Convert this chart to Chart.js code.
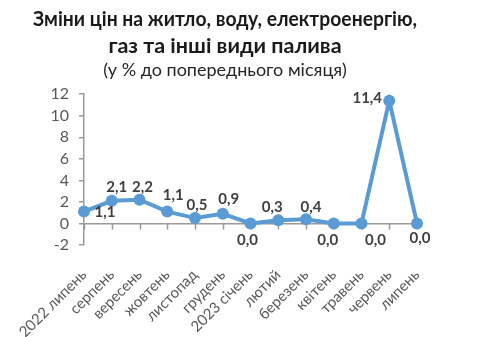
<!DOCTYPE html>
<html>
<head>
<meta charset="utf-8">
<script src="https://cdn.jsdelivr.net/npm/chart.js@4"></script>
<style>
  html, body { margin: 0; padding: 0; background: #fff; }
  .chart-container { width: 480px; height: 337px; }
</style>
</head>
<body>
<div class="chart-container"><canvas id="myChart"></canvas></div>
<script>
const months = ['2022 липень', 'серпень', 'вересень', 'жовтень', 'листопад', 'грудень',
    '2023 січень', 'лютий', 'березень', 'квітень', 'травень', 'червень', 'липень'];
const changes = [1.1, 2.1, 2.2, 1.1, 0.5, 0.9, 0.0, 0.3, 0.4, 0.0, 0.0, 11.4, 0.0];
const yTicks = [-2, 0, 2, 4, 6, 8, 10, 12];

// where each value label sits relative to its point (dx, dy)
const labelShift = [[21, 1], [5, -14], [3, -13], [6, -16], [2, -13], [6, -15], [-3, 17],
    [-6, -13], [5, -12], [-6, 17], [14, 17], [-22, -3], [3, 15]];

const FONT = 'Lato, "Liberation Sans", sans-serif';
const AXIS_GREY = '#9a9a9a';
const BLUE = '#5B9BD5';

// value labels, written with a decimal comma
const valueLabels = {
    id: 'valueLabels',
    afterDatasetsDraw(chart) {
        const c = chart.ctx;
        const meta = chart.getDatasetMeta(0);
        c.save();
        c.font = 'bold 15px ' + FONT;
        c.fillStyle = '#404040';
        c.textAlign = 'center';
        c.textBaseline = 'middle';
        meta.data.forEach((pt, i) => {
            const txt = changes[i].toFixed(1).replace('.', ',');
            c.fillText(txt, pt.x + labelShift[i][0], pt.y + labelShift[i][1]);
        });
        c.restore();
    }
};

// category tick marks hanging from the zero line
const zeroTicks = {
    id: 'zeroTicks',
    beforeDatasetsDraw(chart) {
        const c = chart.ctx;
        const x = chart.scales.x;
        const y0 = chart.scales.y.getPixelForValue(0);
        c.save();
        c.strokeStyle = AXIS_GREY;
        c.lineWidth = 1.5;
        c.beginPath();
        x.ticks.forEach((t, i) => {
            const px = Math.round(x.getPixelForTick(i)) + 0.5;
            c.moveTo(px, y0);
            c.lineTo(px, y0 + 6);
        });
        c.stroke();
        c.restore();
    }
};

const ctx = document.getElementById('myChart').getContext('2d');

new Chart(ctx, {
    type: 'line',
    data: {
        labels: months,
        datasets: [{
            data: changes,
            borderColor: BLUE,
            backgroundColor: BLUE,
            borderWidth: 4,
            pointRadius: 6,
            pointBorderWidth: 0,
            pointBackgroundColor: BLUE,
            tension: 0,
        }],
    },
    options: {
        responsive: true,
        maintainAspectRatio: false,
        animation: false,
        layout: { padding: { left: 33, right: 63, top: 0, bottom: 0 } },
        plugins: {
            legend: { display: false },
            tooltip: { enabled: false },
            title: {
                display: true,
                text: ['Зміни цін на житло, воду, електроенергію,', 'газ та інші види палива'],
                color: '#1a1a1a',
                font: { family: FONT, size: 21.5, weight: 'bold', lineHeight: 1.27 },
                padding: { top: 5, bottom: 0 },
            },
            subtitle: {
                display: true,
                text: '(у % до попереднього місяця)',
                color: '#262626',
                font: { family: FONT, size: 18, lineHeight: 1.2 },
                padding: { top: 0, bottom: 13 },
            },
        },
        scales: {
            x: {
                offset: false,
                grid: { display: false },
                border: { display: false },
                ticks: {
                    color: '#595959',
                    font: { family: FONT, size: 15 },
                    minRotation: 45,
                    maxRotation: 45,
                    autoSkip: false,
                    padding: 13,
                },
                afterFit(scale) { scale.height = 92; },
            },
            y: {
                min: -2,
                max: 12,
                afterBuildTicks(scale) { scale.ticks = yTicks.map(v => ({ value: v })); },
                grid: {
                    color: c => (c.tick && c.tick.value === 0 ? AXIS_GREY : 'transparent'),
                    tickColor: AXIS_GREY,
                    lineWidth: 1.5,
                    tickLength: 5,
                },
                border: { display: true, color: AXIS_GREY, width: 1.5 },
                ticks: {
                    color: '#595959',
                    font: { family: FONT, size: 16 },
                    padding: 10,
                    autoSkip: false,
                },
                afterFit(scale) { scale.width = 51; },
            },
        },
    },
    plugins: [zeroTicks, valueLabels],
});
</script>
</body>
</html>
